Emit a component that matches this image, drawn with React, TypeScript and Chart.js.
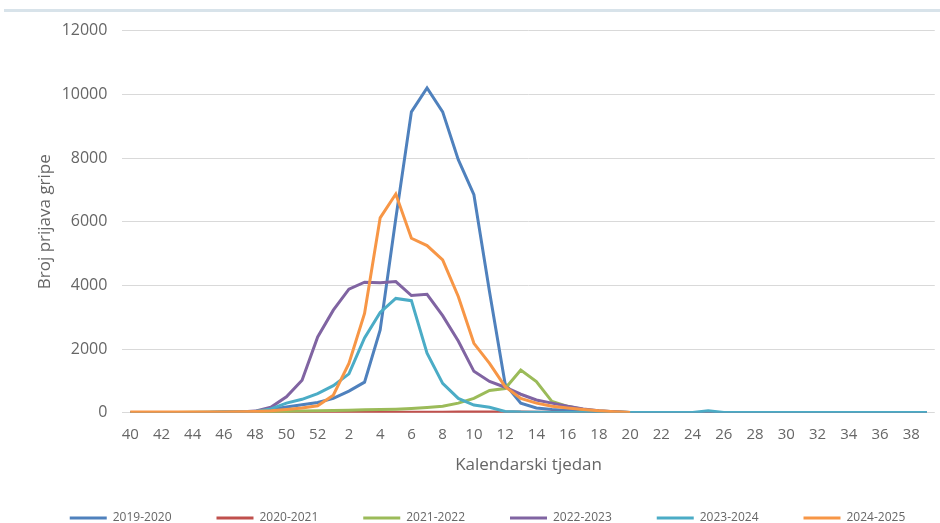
import React, { useEffect, useRef } from "react";
import { Chart, registerables } from "chart.js";

Chart.register(...registerables);

const weeks = [
  "40", "41", "42", "43", "44", "45", "46", "47", "48", "49", "50", "51", "52",
  "1", "2", "3", "4", "5", "6", "7", "8", "9", "10", "11", "12", "13", "14", "15",
  "16", "17", "18", "19", "20", "21", "22", "23", "24", "25", "26", "27", "28",
  "29", "30", "31", "32", "33", "34", "35", "36", "37", "38", "39",
];

const seasons = ["2019-2020", "2020-2021", "2021-2022", "2022-2023", "2023-2024", "2024-2025"];
const colors = ["#4F81BD", "#C0504D", "#9BBB59", "#8064A2", "#4BACC6", "#F79646"];

const s2019_2020 = [
  5, 5, 5, 10, 10, 15, 20, 30, 40, 100, 180, 250, 320,
  450, 680, 960, 2600, 6100, 9450, 10200, 9450, 7950, 6850, 3800, 900,
  300, 150, 100, 70, 50, 30, 20,
  10, 10, 10, 10, 10, 10, 10, 10, 10, 10, 10, 10, 10, 10, 10, 10, 10, 10, 10, 10,
];
const s2020_2021 = [
  5, 5, 5, 5, 5, 5, 5, 5, 5, 5, 5, 5, 10,
  10, 10, 10, 15, 15, 15, 15, 15, 20, 20, 20, 20, 20, 15, 15, 10, 10, 10, 10,
  5, 5, 5, 5, 5, 5, 5, 5, 5, 5, 5, 5, 5, 5, 5, 5, 5, 5, 5, 5,
];
const s2021_2022 = [
  10, 10, 10, 10, 15, 15, 20, 20, 25, 30, 40, 50, 60,
  70, 80, 90, 100, 110, 130, 160, 200, 300, 450, 700, 760, 1340, 980, 350,
  200, 100, 50, 30,
  10, 10, 10, 10, 10, 10, 10, 10, 10, 10, 10, 10, 10, 10, 10, 10, 10, 10, 10, 10,
];
const s2022_2023 = [
  5, 5, 5, 5, 10, 10, 15, 20, 50, 170, 500, 1020, 2380,
  3220, 3880, 4100, 4080, 4120, 3680, 3720, 3050, 2250, 1300, 980, 800, 580,
  400, 300, 200, 120, 60, 30,
  10, 10, 10, 10, 10, 10, 10, 10, 10, 10, 10, 10, 10, 10, 10, 10, 10, 10, 10, 10,
];
const s2023_2024 = [
  5, 5, 5, 5, 10, 10, 15, 20, 40, 120, 300, 420, 600,
  850, 1220, 2350, 3150, 3590, 3520, 1870, 920, 450, 240, 170,
  40, 20, 15, 10, 10, 10, 10, 10, 10, 10, 10, 10, 10, 60,
  10, 10, 10, 10, 10, 10, 10, 10, 10, 10, 10, 10, 10, 10,
];
const s2024_2025 = [
  20, 20, 20, 20, 20, 20, 25, 30, 40, 60, 100, 150, 220,
  550, 1550, 3120, 6120, 6870, 5480, 5250, 4800, 3650, 2180, 1550, 820,
  450, 300, 200, 150, 100, 60, 30, 10,
  null, null, null, null, null, null, null, null, null, null,
  null, null, null, null, null, null, null, null, null,
];

const seriesValues = [s2019_2020, s2020_2021, s2021_2022, s2022_2023, s2023_2024, s2024_2025];

const yTicksMax = 12000;
const yTickStep = 2000;

const tickFont = '"Open Sans", "DejaVu Sans", sans-serif';
const textColor = "#666666";
const legendFontSize = 12;

const layoutTweak = {
  id: "layoutTweak",
  afterLayout(chart: any) {
    const x = chart.scales.x;
    if (x) x.bottom = 475.2;
    const lg = chart.legend;
    if (lg) {
      const pad = lg.options.labels.padding;
      const dy = 518 - (lg.top + pad + legendFontSize / 2);
      lg.top += dy;
      lg.bottom += dy;
      lg.left += 20;
      lg.right += 20;
    }
  },
};

export default function App() {
  const canvasRef = useRef<HTMLCanvasElement | null>(null);

  useEffect(() => {
    document.body.style.margin = "0";
    const canvas = canvasRef.current;
    if (!canvas) return;
    const chart = new Chart(canvas, {
      type: "line",
      data: {
        labels: weeks,
        datasets: seasons.map((name, i) => ({
          label: name,
          data: seriesValues[i],
          borderColor: colors[i],
          backgroundColor: colors[i],
          borderWidth: 3,
          pointRadius: 0,
          pointHoverRadius: 0,
          tension: 0,
          fill: false,
          spanGaps: false,
          order: -i,
        })),
      },
      options: {
        responsive: false,
        animation: false,
        layout: { padding: { top: 30.7, right: 5, left: 0, bottom: 0 } },
        plugins: {
          tooltip: { enabled: false },
          legend: {
            position: "bottom",
            labels: {
              boxWidth: 37,
              boxHeight: 3,
              padding: 45,
              color: textColor,
              font: { family: tickFont, size: legendFontSize },
              generateLabels: (ch: any) =>
                Chart.defaults.plugins.legend.labels
                  .generateLabels(ch)
                  .map((l: any) => ({ ...l, lineWidth: 0 })),
              sort: (a: any, b: any) => a.datasetIndex - b.datasetIndex,
            },
          },
        },
        scales: {
          x: {
            offset: true,
            grid: { display: false, drawTicks: false },
            border: { display: false },
            ticks: {
              autoSkip: false,
              maxRotation: 0,
              minRotation: 0,
              padding: 13,
              color: textColor,
              font: { family: tickFont, size: 15 },
              callback: (_v: any, i: number) => (i % 2 === 0 ? weeks[i] : ""),
            },
            title: {
              display: true,
              text: "Kalendarski tjedan",
              color: textColor,
              font: { family: tickFont, size: 17 },
              padding: 0,
            },
            afterFit: (s: any) => {
              const lh = s.chart.legend ? s.chart.legend.height : 67;
              s.height = 523 - lh - 412.7;
            },
          },
          y: {
            min: 0,
            max: yTicksMax,
            ticks: {
              stepSize: yTickStep,
              color: textColor,
              padding: 15,
              font: { family: tickFont, size: 16 },
              callback: (v: any) => String(v),
            },
            grid: { color: "#d9d9d9", drawTicks: false, lineWidth: 1 },
            border: { display: false },
            title: {
              display: true,
              text: "Broj prijava gripe",
              color: textColor,
              font: { family: tickFont, size: 17 },
              padding: { top: 35, bottom: 0 },
            },
            afterFit: (s: any) => {
              s.width = 122.4;
            },
          },
        },
      },
      plugins: [layoutTweak],
    } as any);
    return () => chart.destroy();
  }, []);

  return (
    <div style={{ position: "relative", width: 940, height: 523, background: "#ffffff", overflow: "hidden" }}>
      <canvas ref={canvasRef} width={940} height={523} style={{ position: "absolute", left: 0, top: 0 }} />
      <div style={{ position: "absolute", left: 4, right: 0, top: 9, height: 3, background: "#d8e3ea" }} />
    </div>
  );
}
